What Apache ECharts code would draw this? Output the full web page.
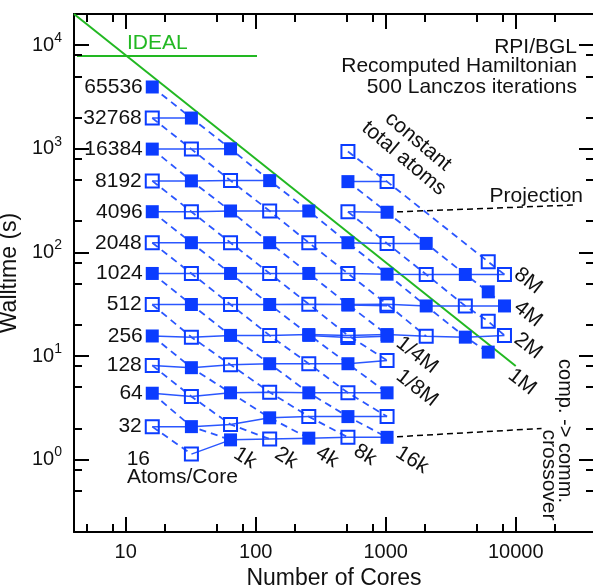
<!DOCTYPE html>
<html>
<head>
<meta charset="utf-8">
<script src="https://cdn.jsdelivr.net/npm/echarts@6/dist/echarts.min.js"></script>
<style>
  html, body { margin: 0; padding: 0; background: #fff; }
  #chart { width: 593px; height: 585px; }
</style>
</head>
<body>
<div id="chart"></div>
<script>
// core counts of the regular runs
const CORES = [16, 32, 64, 128, 256, 512, 1024, 2048, 4096, 8192];
// one row per atoms/core, walltime (s) indexed like CORES, null = no run
const ATOMS_PER_CORE = [65536, 32768, 16384, 8192, 4096, 2048, 1024, 512, 256, 128, 64, 32, 16];
const WALLTIME = [
  [3950],
  [1980, 1980],
  [993, 993, 1000],
  [490, 490, 493, 493],
  [247, 247, 251, 251, 251],
  [124, 124, 124, 124, 124, 124, 122, 122],
  [62.6, 62.6, 62.6, 62.6, 62.6, 62.6, 61.6, 61.2, 61.2, 61.2],
  [31.4, 31.4, 31.4, 31.4, 31.6, 31.4, 31.6, 30.4, 30.4, 30.4],
  [15.6, 15.2, 15.8, 15.8, 16.1, 15.8, 16.1, 15.5, 15.2, 15.8],
  [8.11, 7.71, 8.24, 8.42, 8.42, 8.42, 9.06],
  [4.37, 4.06, 4.41, 4.47, 4.41, 4.41, 4.41],
  [2.08, 2.08, 2.18, 2.53, 2.60, 2.60, 2.60],
  [null, 1.13, 1.55, 1.58, 1.61, 1.64, 1.64]
];

// separate big-system runs at 512/1024 cores
const HI_ATOMS = [16384, 8192, 4096];
const HI_CORES = [[512], [512, 1024], [512, 1024]];
const HI_TIME = [[942], [482, 482], [247, 244]];

// repeated measurements (overlapping squares)
const REP_ATOMS = [512, 256];
const REP_CORES = [[512, 1024], [256, 512, 1024]];
const REP_TIME = [[31.0, 30.6], [15.8, 15.1, 15.5]];

// 6144-core runs, by total atoms
const EXTRA_CORES = 6144;
const EXTRA_TOTAL = [8388608, 4194304, 2097152, 1048576];
const EXTRA_TIME = [81.1, 41.6, 21.6, 10.9];

// ideal scaling and the two projections
const IDEAL_CORES = [4, 10000];
const IDEAL_TIME = [20000, 8];
const PROJ_CORES = [1024, 29000];
const PROJ_TIME = [244, 287];
const CROSS_CORES = [1024, 15800];
const CROSS_TIME = [1.64, 2.0];

// axis ticks
const X_TICKS = [10, 100, 1000, 10000];
const Y_TICKS = [1, 10, 100, 1000, 10000];
const MINOR_MULT = [2, 5, 8];

const MARK = '#0b3cff';
const LINE = '#2b57ff';
const GREEN = '#22b822';
const FONT = '"Liberation Sans", Arial, Helvetica, sans-serif';

const chart = echarts.init(document.getElementById('chart'));

function markerStyle(total) {
  const filled = Math.round(Math.log2(total)) % 2 === 0;
  return filled
    ? { color: MARK, borderColor: MARK, borderWidth: 0, opacity: 1 }
    : { color: 'rgba(0,0,0,0)', borderColor: MARK, borderWidth: 2, opacity: 1 };
}

const points = [];
const series = [];

function addRun(atoms, cores, times, rowLabel, onDiagonal) {
  const data = [];
  cores.forEach((n, i) => {
    const t = times[i];
    if (t == null) return;
    if (onDiagonal) points.push({ n, t, total: atoms * n });
    data.push({ value: [n, t], itemStyle: markerStyle(atoms * n) });
  });
  if (rowLabel && data.length) {
    data[0].label = {
      show: true, position: 'left', distance: 3, formatter: rowLabel,
      fontSize: 21, color: '#111', fontFamily: FONT
    };
  }
  series.push({
    type: 'line', xAxisIndex: 0, yAxisIndex: 0, data,
    symbol: 'rect', symbolSize: 13, showAllSymbol: true,
    lineStyle: { color: LINE, width: 1.5 }, z: 4, silent: true
  });
}

ATOMS_PER_CORE.forEach((a, r) => addRun(a, CORES, WALLTIME[r], a === 16 ? null : String(a), true));
HI_ATOMS.forEach((a, r) => addRun(a, HI_CORES[r], HI_TIME[r], null, true));
REP_ATOMS.forEach((a, r) => addRun(a, REP_CORES[r], REP_TIME[r], null, false));

const extraData = EXTRA_TOTAL.map((tot, i) => {
  points.push({ n: EXTRA_CORES, t: EXTRA_TIME[i], total: tot });
  return { value: [EXTRA_CORES, EXTRA_TIME[i]], itemStyle: markerStyle(tot) };
});
series.push({
  type: 'scatter', xAxisIndex: 0, yAxisIndex: 0, data: extraData,
  symbol: 'rect', symbolSize: 13, z: 4, silent: true
});

// constant total atoms: dashed lines through equal totals
const byTotal = {};
points.forEach(p => { (byTotal[p.total] = byTotal[p.total] || []).push(p); });
Object.keys(byTotal).forEach(k => {
  const pts = byTotal[k].sort((a, b) => a.n - b.n);
  if (pts.length < 2) return;
  series.push({
    type: 'line', xAxisIndex: 0, yAxisIndex: 0, symbol: 'none', silent: true,
    data: pts.map(p => [p.n, p.t]),
    lineStyle: { color: LINE, width: 1.8, type: [7, 5] }, z: 2
  });
});

series.push({
  type: 'line', xAxisIndex: 0, yAxisIndex: 0, symbol: 'none', silent: true,
  data: IDEAL_CORES.map((n, i) => [n, IDEAL_TIME[i]]),
  lineStyle: { color: GREEN, width: 2 }, z: 3
});
series.push({
  type: 'line', xAxisIndex: 0, yAxisIndex: 0, symbol: 'none', silent: true,
  data: PROJ_CORES.map((n, i) => [n, PROJ_TIME[i]]),
  lineStyle: { color: '#000', width: 1.5, type: [6, 4] }, z: 3
});
series.push({
  type: 'line', xAxisIndex: 0, yAxisIndex: 0, symbol: 'none', silent: true,
  data: CROSS_CORES.map((n, i) => [n, CROSS_TIME[i]]),
  lineStyle: { color: '#000', width: 1.5, type: [6, 4] }, z: 3
});

// frame axes (value axes in log10 units, ticks placed by customValues)
const LX = [Math.log10(4), Math.log10(40000)];
const LY = [Math.log10(0.2), Math.log10(20000)];
const minorTicks = (lo, hi) => {
  const out = [];
  for (let d = lo; d <= hi; d++) MINOR_MULT.forEach(m => out.push(d + Math.log10(m)));
  return out;
};
const X_MINOR = minorTicks(0, 4);
const Y_MINOR = minorTicks(-1, 4);

const supLabel = v => '{b|10}{s|' + Math.round(v) + '}';

function frameAxis(grid, pos, range, ticks, len, showLine, label, name) {
  const ax = {
    type: 'value', gridIndex: grid, position: pos, min: range[0], max: range[1],
    axisLine: { show: showLine, onZero: false, lineStyle: { color: '#000', width: 2 } },
    axisTick: { show: true, inside: true, length: len, customValues: ticks, lineStyle: { color: '#000', width: 2 } },
    axisLabel: { show: false },
    splitLine: { show: false }
  };
  if (label) ax.axisLabel = Object.assign({ show: true, customValues: ticks }, label);
  if (name) Object.assign(ax, name);
  return ax;
}

const option = {
  animation: false,
  backgroundColor: '#fff',
  grid: [0, 1, 2].map(() => ({
    left: 74, top: 14, width: 520, height: 518, containLabel: false, outerBoundsMode: 'none'
  })),
  xAxis: [
    { type: 'log', logBase: 10, gridIndex: 0, min: 4, max: 40000, show: false },
    frameAxis(1, 'bottom', LX, X_TICKS.map(Math.log10), 15, true,
      { formatter: v => String(Math.round(Math.pow(10, v))), fontSize: 20, color: '#111', fontFamily: FONT, margin: 10 },
      { name: 'Number of Cores', nameLocation: 'middle', nameGap: 29,
        nameTextStyle: { fontSize: 23, color: '#111', fontFamily: FONT } }),
    frameAxis(1, 'top', LX, X_TICKS.map(Math.log10), 15, true),
    frameAxis(2, 'bottom', LX, X_MINOR, 8, false),
    frameAxis(2, 'top', LX, X_MINOR, 8, false)
  ],
  yAxis: [
    { type: 'log', logBase: 10, gridIndex: 0, min: 0.2, max: 20000, show: false },
    frameAxis(1, 'left', LY, Y_TICKS.map(Math.log10), 15, true,
      { formatter: supLabel, margin: 12, color: '#111',
        rich: { b: { fontSize: 20, fontFamily: FONT, color: '#111' },
                s: { fontSize: 14, fontFamily: FONT, color: '#111', padding: [0, 0, 14, 0] } } },
      { name: 'Walltime (s)', nameLocation: 'middle', nameGap: 40,
        nameTextStyle: { fontSize: 23, color: '#111', fontFamily: FONT } }),
    frameAxis(1, 'right', LY, Y_TICKS.map(Math.log10), 15, true),
    frameAxis(2, 'left', LY, Y_MINOR, 8, false),
    frameAxis(2, 'right', LY, Y_MINOR, 8, false)
  ],
  graphic: [],
  series
};

// annotations
const deg = d => d * Math.PI / 180;
function note(text, x, y, opts) {
  opts = opts || {};
  option.graphic.push({
    type: 'text', x, y, rotation: opts.rot ? deg(opts.rot) : 0, silent: true, z: 10,
    style: {
      text, font: (opts.size || 21) + 'px ' + FONT, fill: opts.color || '#111',
      align: opts.align || 'center', verticalAlign: 'middle', lineHeight: opts.lh || 22
    }
  });
}
option.graphic.push({
  type: 'line', silent: true, shape: { x1: 77, y1: 56, x2: 257, y2: 56 },
  style: { stroke: GREEN, lineWidth: 2 }
});
note('IDEAL', 127, 43, { align: 'left', color: GREEN });
note('RPI/BGL', 577, 47, { align: 'right' });
note('Recomputed Hamiltonian', 577, 66, { align: 'right' });
note('500 Lanczos iterations', 577, 87, { align: 'right' });
note('constant\ntotal atoms', 411, 150, { rot: -40 });
note('Projection', 583, 196, { align: 'right' });
note('16', 150, 459, { align: 'right' });
note('Atoms/Core', 127, 477, { align: 'left' });
note('comp. -> comm.', 565, 431, { rot: -90, size: 20 });
note('crossover', 549, 475, { rot: -90 });
[['1k', 245, 458], ['2k', 286, 458], ['4k', 327, 457], ['8k', 365, 455], ['16k', 412, 460]]
  .forEach(([t, x, y]) => note(t, x, y, { rot: -32 }));
[['1/8M', 417, 388], ['1/4M', 417, 355], ['1M', 522, 382], ['2M', 528, 346], ['4M', 528, 314], ['8M', 528, 281]]
  .forEach(([t, x, y]) => note(t, x, y, { rot: -38 }));

chart.setOption(option);
window.addEventListener('resize', () => chart.resize());
</script>
</body>
</html>
